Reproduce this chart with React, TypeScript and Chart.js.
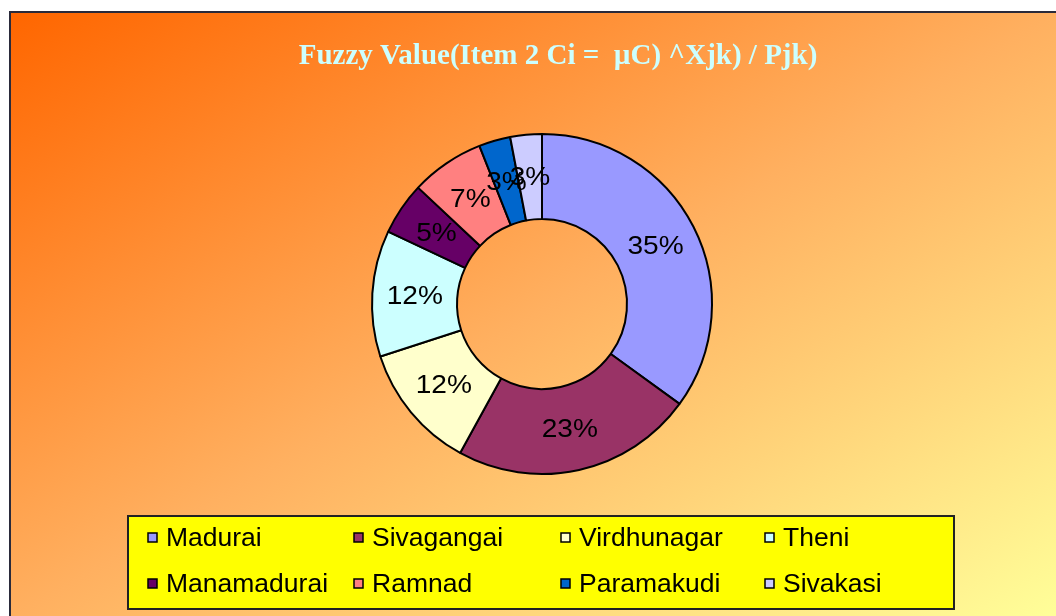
import React, { useEffect, useRef } from "react";
import { Chart, registerables } from "chart.js";

Chart.register(...registerables);

const categories = ["Madurai", "Sivagangai", "Virdhunagar", "Theni", "Manamadurai", "Ramnad", "Paramakudi", "Sivakasi"];
const values = [35, 23, 12, 12, 5, 7, 3, 3];
const sliceLabels = ["35%", "23%", "12%", "12%", "5%", "7%", "3%", "3%"];
const colors = ["#9999FF", "#993366", "#FFFFCC", "#CCFFFF", "#660066", "#FF8080", "#0066CC", "#CCCCFF"];
const titleText = "Fuzzy Value(Item 2 Ci =  \u00B5C) ^Xjk) / Pjk)";

const W = 1047;
const H = 605;

const overlayPlugin = {
  id: "overlay",
  beforeDraw(chart: any) {
    const ctx = chart.ctx;
    ctx.save();
    // title
    ctx.font = "bold 29px 'Liberation Serif', 'Times New Roman', serif";
    ctx.fillStyle = "#CCFFFF";
    ctx.textAlign = "center";
    ctx.textBaseline = "middle";
    ctx.fillText(titleText, 547, 44);
    // legend box
    const lx = 117, ly = 503, lw = 826, lh = 93;
    ctx.fillStyle = "#FFFF00";
    ctx.fillRect(lx, ly, lw, lh);
    ctx.strokeStyle = "#222";
    ctx.lineWidth = 2;
    ctx.strokeRect(lx, ly, lw, lh);
    const colsX = [137, 343, 550, 754];
    const rowsY = [525, 571];
    categories.forEach((name, i) => {
      const cx = colsX[i % 4];
      const cy = rowsY[Math.floor(i / 4)];
      ctx.fillStyle = colors[i];
      ctx.fillRect(cx, cy - 5, 9, 9);
      ctx.strokeStyle = "#000";
      ctx.lineWidth = 1.5;
      ctx.strokeRect(cx, cy - 5, 9, 9);
      ctx.save();
      ctx.translate(cx + 18, cy);
      ctx.scale(1.06, 1);
      ctx.fillStyle = "#000";
      ctx.font = "25px 'Liberation Sans', Arial, sans-serif";
      ctx.textAlign = "left";
      ctx.textBaseline = "middle";
      ctx.fillText(name, 0, 1);
      ctx.restore();
    });
    ctx.restore();
  },
  afterDatasetsDraw(chart: any) {
    const ctx = chart.ctx;
    const meta = chart.getDatasetMeta(0);
    ctx.save();
    meta.data.forEach((arc: any, i: number) => {
      const p = arc.getProps(["x", "y", "startAngle", "endAngle", "innerRadius", "outerRadius"], true);
      const a = (p.startAngle + p.endAngle) / 2;
      const r = (p.innerRadius + p.outerRadius) / 2;
      const x = p.x + Math.cos(a) * r;
      const y = p.y + Math.sin(a) * r;
      ctx.save();
      ctx.translate(x, y);
      ctx.scale(1.08, 1);
      ctx.fillStyle = "#000";
      ctx.font = "26px 'Liberation Sans', Arial, sans-serif";
      ctx.textAlign = "center";
      ctx.textBaseline = "middle";
      ctx.fillText(sliceLabels[i], 0, 1);
      ctx.restore();
    });
    ctx.restore();
  },
};

export default function App() {
  const ref = useRef<HTMLCanvasElement | null>(null);
  useEffect(() => {
    document.body.style.overflow = "hidden";
    const chart = new Chart(ref.current as HTMLCanvasElement, {
      type: "doughnut",
      data: {
        labels: categories,
        datasets: [
          {
            data: values,
            backgroundColor: colors,
            borderColor: "#000",
            borderWidth: 2,
          },
        ],
      },
      options: {
        responsive: false,
        animation: false,
        cutout: "50%",
        layout: { padding: { left: 359, right: 344, top: 120, bottom: 143 } },
        plugins: {
          legend: { display: false },
          title: { display: false },
          tooltip: { enabled: false },
        },
      },
      plugins: [overlayPlugin],
    });
    return () => chart.destroy();
  }, []);
  return (
    <div
      style={{
        position: "absolute",
        left: 9,
        top: 11,
        width: W,
        height: H,
        background: "linear-gradient(to bottom right, #FF6600 0%, #FFB060 50%, #FFFF99 100%)",
        borderLeft: "2px solid #2a2a3a",
        borderTop: "2px solid #2a2a3a",
      }}
    >
      <canvas ref={ref} width={W} height={H} style={{ display: "block" }} />
    </div>
  );
}
